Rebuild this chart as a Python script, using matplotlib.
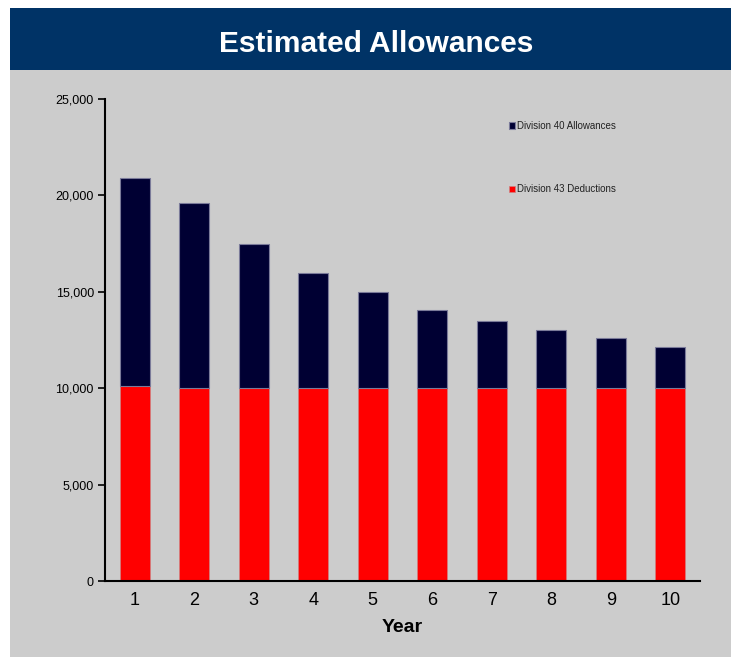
import numpy as np
import matplotlib
matplotlib.use('Agg')
import matplotlib.pyplot as plt
from matplotlib.patches import Rectangle
from matplotlib.ticker import FuncFormatter

plt.rcParams.update({
    "font.family": ["Liberation Sans", "DejaVu Sans"],
})

# Data
years = [1, 2, 3, 4, 5, 6, 7, 8, 9, 10]
div43 = [10090, 10000, 10000, 10000, 10000, 10000, 10000, 10000, 10000, 10000]
div40 = [10790, 9615, 7505, 5980, 5010, 4055, 3480, 3000, 2620, 2150]
labels = ['Division 40 Allowances', 'Division 43 Deductions']

W, H = 731, 657
fig = plt.figure(figsize=(W/100, H/100), dpi=100)
fig.patch.set_facecolor('white')

# grey panel and title banner
fig.patches.append(Rectangle((10/W, 0), 1 - 10/W, 1 - 70/H, transform=fig.transFigure,
                             facecolor='#cccccc', edgecolor='none', zorder=-10))
fig.patches.append(Rectangle((10/W, 1 - 70/H), 1 - 10/W, 62/H, transform=fig.transFigure,
                             facecolor='#003366', edgecolor='none', zorder=-10))
fig.text(376/W, 1 - 44/H, 'Estimated Allowances', color='white', fontsize=21.5,
         fontweight='bold', ha='center', va='center')

# axes: x 105..700, y 99..581
ax = fig.add_axes([105/W, 1 - 581/H, 595/W, 482/H])
ax.set_facecolor('none')

x = np.array(years)
b43 = ax.bar(x, div43, width=0.5, color='#ff0000', edgecolor='#d08080', linewidth=0.5,
             label=labels[1], zorder=2)
b40 = ax.bar(x, div40, width=0.5, bottom=div43, color='#000033', edgecolor='#7a7a99',
             linewidth=0.8, label=labels[0], zorder=2)

ax.set_xlim(0.5, 10.5)
ax.set_ylim(0, 25000)
ax.set_yticks(np.arange(0, 25001, 5000))
ax.yaxis.set_major_formatter(FuncFormatter(lambda v, p: f'{int(v):,}'))
ax.set_xticks(x)
ax.set_xticklabels([str(y) for y in years], fontsize=13)
ax.tick_params(axis='y', labelsize=9, length=5, width=1.2, direction='out', pad=3)
ax.tick_params(axis='x', length=0, pad=8)
ax.set_xlabel('Year', fontsize=14, fontweight='bold', labelpad=7)

for s in ['top', 'right']:
    ax.spines[s].set_visible(False)
for s in ['left', 'bottom']:
    ax.spines[s].set_linewidth(1.5)
    ax.spines[s].set_color('black')

leg = ax.legend(handles=[b40, b43], labels=labels, loc='upper left',
                bbox_to_anchor=(404/595, 1 - 22/482), frameon=False, fontsize=7,
                handlelength=0.6, handleheight=0.6, handletextpad=0.2,
                labelspacing=5.5, borderaxespad=0, borderpad=0)
for t in leg.get_texts():
    t.set_color('#222222')

fig.savefig('out.png', dpi=100)
